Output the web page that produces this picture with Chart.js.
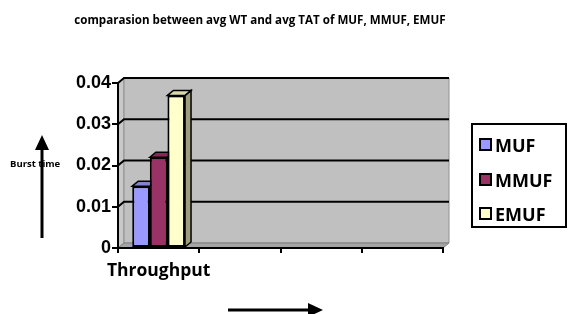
<!DOCTYPE html>
<html>
<head>
<meta charset="utf-8">
<script src="https://cdn.jsdelivr.net/npm/chart.js@4.4.0/dist/chart.umd.min.js"></script>
<style>
    body { margin: 0; background: #fff; }
    #wrap { position: relative; width: 568px; height: 314px; overflow: hidden; }
    #chart { position: absolute; left: 0; top: 0; }
    .title { position: absolute; left: 0; width: 520px; top: 12px; text-align: center;
        font: bold 11.6px "Open Sans", sans-serif; color: #000; }
    .ylabel { position: absolute; left: 10px; top: 157px; font: bold 9.5px "Open Sans", sans-serif; color: #000; }
    .legend { position: absolute; left: 471px; top: 123px; width: 92px; height: 101px;
        border: 2px solid #000; background: #fff; }
    .legend .item { position: absolute; left: 6px; font: bold 18px "Open Sans", sans-serif; color: #000; line-height: 20px; white-space: nowrap; }
    .legend .swatch { display: inline-block; width: 9px; height: 9px; border: 2px solid #000;
        margin-right: 3px; vertical-align: 1px; }
    svg { position: absolute; left: 0; top: 0; }
</style>
</head>
<body>
<div id="wrap">
    <canvas id="chart" width="568" height="314"></canvas>
    <div class="title">comparasion between avg WT and avg TAT of MUF, MMUF, EMUF</div>
    <div class="ylabel">Burst time</div>
    <svg width="568" height="314">
        <line x1="42" y1="238" x2="42" y2="148" stroke="#000" stroke-width="3"/>
        <polygon points="42,135 35,150 49,150" fill="#000"/>
        <line x1="228" y1="310" x2="310" y2="310" stroke="#000" stroke-width="3"/>
        <polygon points="323,310 308,303 308,317" fill="#000"/>
    </svg>
    <div class="legend" id="legend"></div>
</div>
<script>
const categories = ['Throughput', '', '', ''];
const seriesNames = ['MUF', 'MMUF', 'EMUF'];
const seriesValues = [
    [0.015, null, null, null],
    [0.022, null, null, null],
    [0.037, null, null, null]
];
const seriesColors = ['#9999ff', '#993366', '#ffffcc'];
const yTicks = [0, 0.01, 0.02, 0.03, 0.04];

const depth = { x: 6, y: 5 };

function shade(hex, f) {
    const n = parseInt(hex.slice(1), 16);
    const r = Math.round((n >> 16) * f);
    const g = Math.round(((n >> 8) & 0xff) * f);
    const b = Math.round((n & 0xff) * f);
    return `rgb(${r},${g},${b})`;
}

function poly(ctx, pts, fill, stroke, lw) {
    ctx.beginPath();
    ctx.moveTo(pts[0][0], pts[0][1]);
    pts.slice(1).forEach(p => ctx.lineTo(p[0], p[1]));
    ctx.closePath();
    if (fill) { ctx.fillStyle = fill; ctx.fill(); }
    if (stroke) { ctx.strokeStyle = stroke; ctx.lineWidth = lw || 1; ctx.stroke(); }
}

// fake 3d: walls + shifted gridlines under the axes, bar tops/sides under the bar fronts
const depthPlugin = {
    id: 'depth3d',
    beforeDraw(chart) {
        const { ctx, chartArea: a, scales } = chart;
        const dx = depth.x, dy = depth.y;
        ctx.save();
        poly(ctx, [[a.left, a.top], [a.left + dx, a.top - dy], [a.left + dx, a.bottom - dy], [a.left, a.bottom]], '#c8c8c8', '#909090', 1);
        poly(ctx, [[a.left + dx, a.top - dy], [a.right + dx, a.top - dy], [a.right + dx, a.bottom - dy], [a.left + dx, a.bottom - dy]], '#c0c0c0', '#909090', 1);
        poly(ctx, [[a.left, a.bottom], [a.right, a.bottom], [a.right + dx, a.bottom - dy], [a.left + dx, a.bottom - dy]], '#a4a4a4', '#808080', 1);
        ctx.strokeStyle = '#000';
        ctx.lineWidth = 2;
        yTicks.slice(1).forEach(v => {
            const y = scales.y.getPixelForValue(v);
            ctx.beginPath();
            ctx.moveTo(a.left, y);
            ctx.lineTo(a.left + dx, y - dy);
            ctx.lineTo(a.right + dx, y - dy);
            ctx.stroke();
        });
        ctx.restore();
    },
    beforeDatasetsDraw(chart) {
        const ctx = chart.ctx;
        const dx = depth.x, dy = depth.y;
        ctx.save();
        chart.data.datasets.forEach((ds, i) => {
            const meta = chart.getDatasetMeta(i);
            meta.data.forEach((bar, j) => {
                if (ds.data[j] == null) return;
                const p = bar.getProps(['x', 'y', 'base', 'width'], true);
                const l = p.x - p.width / 2, r = p.x + p.width / 2;
                poly(ctx, [[r, p.y], [r + dx, p.y - dy], [r + dx, p.base - dy], [r, p.base]], shade(seriesColors[i], 0.62), '#000', 1.5);
                poly(ctx, [[l, p.y], [l + dx, p.y - dy], [r + dx, p.y - dy], [r, p.y]], shade(seriesColors[i], 0.85), '#000', 1.5);
            });
        });
        ctx.restore();
    }
};

const datasets = seriesNames.map((name, i) => ({
    label: name,
    data: seriesValues[i],
    backgroundColor: seriesColors[i],
    borderColor: '#000',
    borderWidth: 2,
    borderSkipped: false,
    categoryPercentage: 0.65,
    barPercentage: 1
}));

new Chart(document.getElementById('chart'), {
    type: 'bar',
    data: { labels: categories, datasets },
    plugins: [depthPlugin],
    options: {
        responsive: false,
        animation: false,
        layout: { padding: { left: 0, right: 125, top: 83, bottom: 0 } },
        plugins: { legend: { display: false }, tooltip: { enabled: false } },
        scales: {
            x: {
                afterFit: s => { s.height = 66; },
                grid: { offset: true, drawOnChartArea: false, tickLength: 5, color: '#000', lineWidth: 2 },
                border: { color: '#000', width: 2 },
                ticks: { color: '#000', padding: 8, autoSkip: false, maxRotation: 0,
                    font: { family: 'Open Sans', weight: 'bold', size: 17.5 } }
            },
            y: {
                min: 0,
                max: 0.04,
                afterFit: s => { s.width = 118; },
                afterBuildTicks: s => { s.ticks = yTicks.map(v => ({ value: v })); },
                grid: { drawOnChartArea: false, tickLength: 6, color: '#000', lineWidth: 2 },
                border: { color: '#000', width: 2 },
                ticks: { color: '#000', padding: 1, font: { family: 'Liberation Sans', weight: 'bold', size: 18 } }
            }
        }
    }
});

const legend = document.getElementById('legend');
const rowTops = [10, 45, 79];
legend.innerHTML = seriesNames.map((name, i) => `
    <div class="item" style="top:${rowTops[i]}px"><span class="swatch" style="background:${seriesColors[i]}"></span>${name}</div>
`).join('');
</script>
</body>
</html>
